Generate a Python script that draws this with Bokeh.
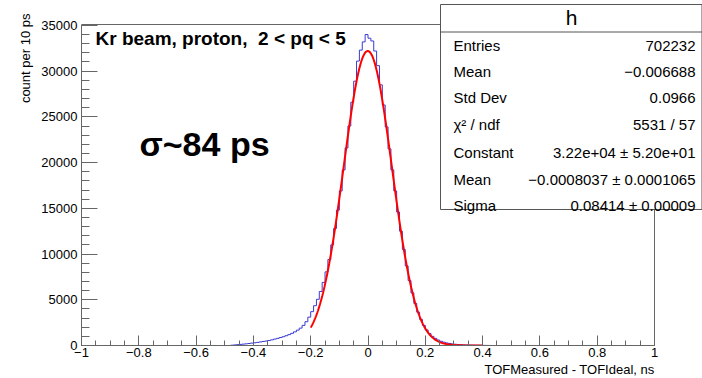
import numpy as np
from bokeh.plotting import figure
from bokeh.models import Label, FixedTicker, Range1d, Title
from bokeh.embed import file_html
from bokeh.resources import INLINE

# ---------------- data ----------------
bin_width = 0.01
first_edge = -0.48
counts = [
    30, 60, 90, 120, 150, 180, 220, 260, 300, 340,
    390, 440, 490, 550, 620, 700, 780, 870, 960, 1070,
    1190, 1330, 1490, 1680, 1900, 2200, 2600, 3100, 3700, 4350,
    5050, 5900, 6900, 8050, 9400, 11000, 12800, 14800, 16900, 19200,
    21600, 24000, 26600, 28900, 31100, 32300, 33200, 34000,
    33600, 33300, 32200, 30600, 28500, 26300, 23900, 21500, 19200, 16900,
    14600, 12500, 10500, 8700, 7100, 5750, 4600, 3650, 2850, 2200,
    1700, 1300, 1000, 780, 600, 460, 360, 280, 220, 170,
    135, 105, 85, 65, 50, 40, 30, 25, 20, 15,
    12, 8, 5,
]

# Gaussian fit parameters (from stats box)
fit_constant = 3.22e4
fit_mean = -0.0008037
fit_sigma = 0.08414
fit_range = [-0.2, 0.4]

x_ticks = [-1, -0.8, -0.6, -0.4, -0.2, 0, 0.2, 0.4, 0.6, 0.8, 1]
x_tick_labels = ["\u22121", "\u22120.8", "\u22120.6", "\u22120.4", "\u22120.2", "0",
                 "0.2", "0.4", "0.6", "0.8", "1"]
y_ticks = [0, 5000, 10000, 15000, 20000, 25000, 30000, 35000]

stats_title = "h"
stats_names = ["Entries", "Mean", "Std Dev", "\u03c7\u00b2 / ndf", "Constant", "Mean", "Sigma"]
stats_values = ["702232", "\u22120.006688", "0.0966", "5531 / 57",
                "3.22e+04 \u00b1 5.20e+01", "\u22120.0008037 \u00b1 0.0001065",
                "0.08414 \u00b1 0.00009"]

title_text = "Kr beam, proton,\u00a0 2 < pq < 5"
sigma_text = "\u03c3~84 ps"
x_title = "TOFMeasured - TOFIdeal, ns"
y_title = "count per 10 ps"

# ---------------- layout helpers ----------------
W, H = 702, 378
FL, FR, FT, FB = 81, 654, 24, 345      # pixel box of the histogram frame
XMIN, XMAX, YMIN, YMAX = -1.0, 1.0, 0.0, 35100.0

def px2x(px):
    return XMIN + (px - FL) * (XMAX - XMIN) / (FR - FL)

def px2y(py):
    return YMIN + (FB - py) * (YMAX - YMIN) / (FB - FT)

FONT = "Liberation Sans"
AX = "#666666"

# plot area extends to the right and top edges of the canvas so that the
# statistics box can sit over the frame corner
p = figure(width=W, height=H, x_range=Range1d(XMIN, px2x(W)), y_range=Range1d(YMIN, px2y(0)),
           output_backend="svg", toolbar_location=None, title=None,
           min_border_left=FL, min_border_right=0, min_border_top=0,
           min_border_bottom=H - FB)
p.xgrid.visible = False
p.ygrid.visible = False
p.background_fill_color = "white"
p.border_fill_color = "white"
p.outline_line_color = None

# axes
p.xaxis.ticker = FixedTicker(ticks=x_ticks,
                             minor_ticks=[round(-1 + 0.05 * i, 2) for i in range(41)])
p.xaxis.major_label_overrides = {t: l for t, l in zip(x_ticks, x_tick_labels)}
p.yaxis.ticker = FixedTicker(ticks=y_ticks, minor_ticks=list(range(0, 35001, 1000)))
p.xaxis.bounds = (XMIN, XMAX)
p.yaxis.bounds = (YMIN, YMAX)
for ax in (p.xaxis[0], p.yaxis[0]):
    ax.axis_line_color = AX
    ax.major_tick_line_color = AX
    ax.minor_tick_line_color = AX
    ax.major_tick_out = 0
    ax.minor_tick_out = 0
    ax.major_label_text_font = FONT
    ax.major_label_text_font_size = "13px"
    ax.major_label_text_color = "black"
p.xaxis.major_tick_in = 10
p.xaxis.minor_tick_in = 5
p.xaxis.major_label_standoff = 2
p.yaxis.major_tick_in = 16
p.yaxis.minor_tick_in = 8
p.yaxis.major_label_standoff = 4

# axis titles (ROOT style: right / top aligned)
p.add_layout(Title(text=y_title, align="right", offset=13, standoff=12,
                   text_font=FONT, text_font_size="13px", text_font_style="normal",
                   text_color="black"), "left")
p.add_layout(Title(text=x_title, align="right", offset=(W - FR), standoff=0,
                   text_font=FONT, text_font_size="13px", text_font_style="normal",
                   text_color="black"), "below")

# top and right frame lines
p.line([XMIN, XMAX, XMAX], [YMAX, YMAX, YMIN], line_color=AX, line_width=1)

# histogram outline
edges = first_edge + bin_width * np.arange(len(counts) + 1)
xs = np.concatenate([[XMIN], edges, [XMAX]])
ys = np.concatenate([[0], counts, [0, 0]])
p.step(xs, ys, mode="after", line_color="#3a3ad6", line_width=1)

# gaussian fit curve
xf = np.linspace(fit_range[0], fit_range[1], 400)
yf = fit_constant * np.exp(-0.5 * ((xf - fit_mean) / fit_sigma) ** 2)
p.line(xf, yf, line_color="#ff0000", line_width=2)

def label(px, py, text, size, align="left", bold=False):
    p.add_layout(Label(x=px2x(px), y=px2y(py), text=text, text_font=FONT,
                       text_font_size=size, text_font_style="bold" if bold else "normal",
                       text_align=align, text_baseline="middle", text_color="black"))

# texts in the pad
label(95, 38, title_text, "19px", bold=True)
label(139, 143, sigma_text, "34px", bold=True)

# statistics box
bl, br, bt, bb, bh = px2x(440), px2x(701.5), px2y(4), px2y(209), px2y(31.5)
p.quad(left=[bl], right=[br], top=[bt], bottom=[bb], fill_color="white",
       line_color="#555555", line_width=1)
p.line([bl, br], [bh, bh], line_color="#555555", line_width=1)
label(571, 17, stats_title, "21px", align="center")
row_y = [45, 71, 97, 124, 152, 179, 205]
for name, val, ry in zip(stats_names, stats_values, row_y):
    label(453, ry, name, "15px")
    label(695, ry, val, "15px", align="right")

open("out.html", "w").write(file_html(p, INLINE))
